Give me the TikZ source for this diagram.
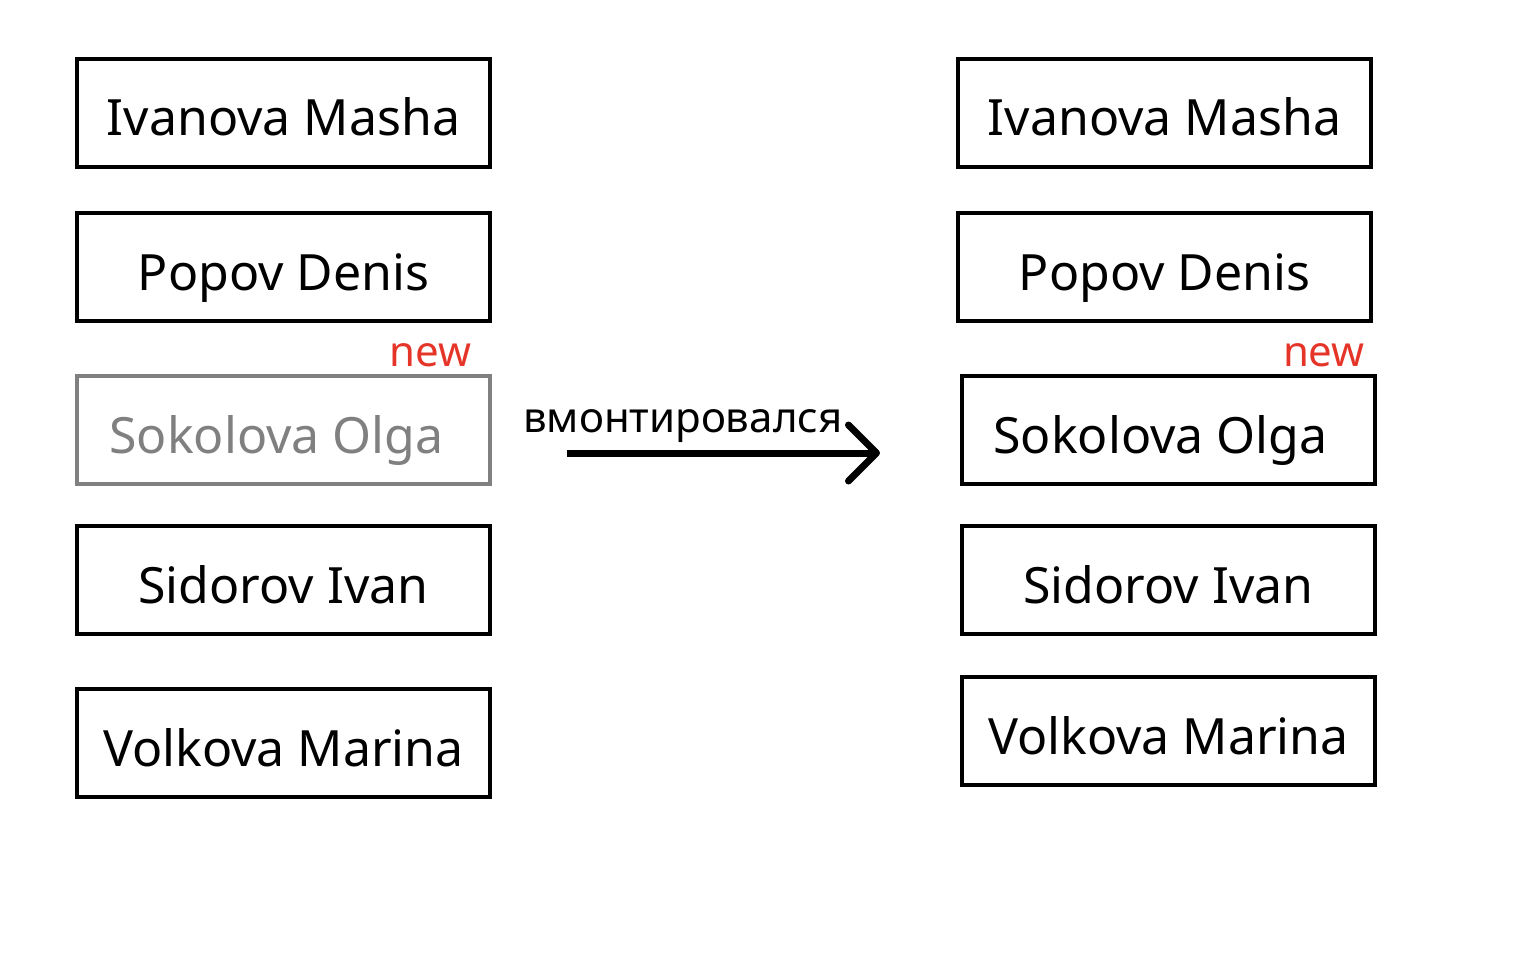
\documentclass[tikz,border=0pt]{standalone}
\usepackage{fontspec}
\setmainfont{Noto Sans}
\usetikzlibrary{arrows.meta}
\definecolor{newred}{HTML}{E53528}
\definecolor{oldgrey}{HTML}{808080}
\begin{document}
\begin{tikzpicture}[x=1pt,y=-1pt,
  namebox/.style={draw,line width=3.5pt,minimum width=413pt,minimum height=108pt,inner sep=0pt,
    font=\fontsize{50}{60}\selectfont,text height=46pt,text depth=0pt},
  oldbox/.style={namebox,draw=oldgrey,text=oldgrey},
  newlabel/.style={font=\fontsize{42}{50}\selectfont,text=newred,anchor=base east,inner sep=0pt},
  arrowlabel/.style={font=\fontsize{42}{50}\selectfont,anchor=base west,inner sep=0pt}]
\useasboundingbox (0,0) rectangle (1536,960);
% left column
\node[namebox] (l1) at (283.5,113) {Ivanova Masha};
\node[namebox] (l2) at (283.5,267) {Popov Denis};
\node[oldbox]  (l3) at (283.5,430) {\hspace*{-14pt}Sokolova Olga};
\node[namebox] (l4) at (283.5,580) {Sidorov Ivan};
\node[namebox] (l5) at (283.5,743) {Volkova Marina};
\node[newlabel] (ln) at (472,366) {new};
% right column
\node[namebox] (r1) at (1164.5,113) {Ivanova Masha};
\node[namebox] (r2) at (1164.5,267) {Popov Denis};
\node[namebox] (r3) at (1168.5,430) {\hspace*{-16pt}Sokolova Olga};
\node[namebox] (r4) at (1168.5,580) {Sidorov Ivan};
\node[namebox] (r5) at (1168.5,731) {Volkova Marina};
\node[newlabel] (rn) at (1365,366) {new};
% arrow
\coordinate (a1) at (567,453);
\coordinate (a2) at (880,453);
\draw[line width=7pt,-{Straight Barb[length=28pt,width=56pt,round]}] (a1) -- (a2);
\node[arrowlabel] (al) at (523,432) {вмонтировался};
\end{tikzpicture}
\end{document}
